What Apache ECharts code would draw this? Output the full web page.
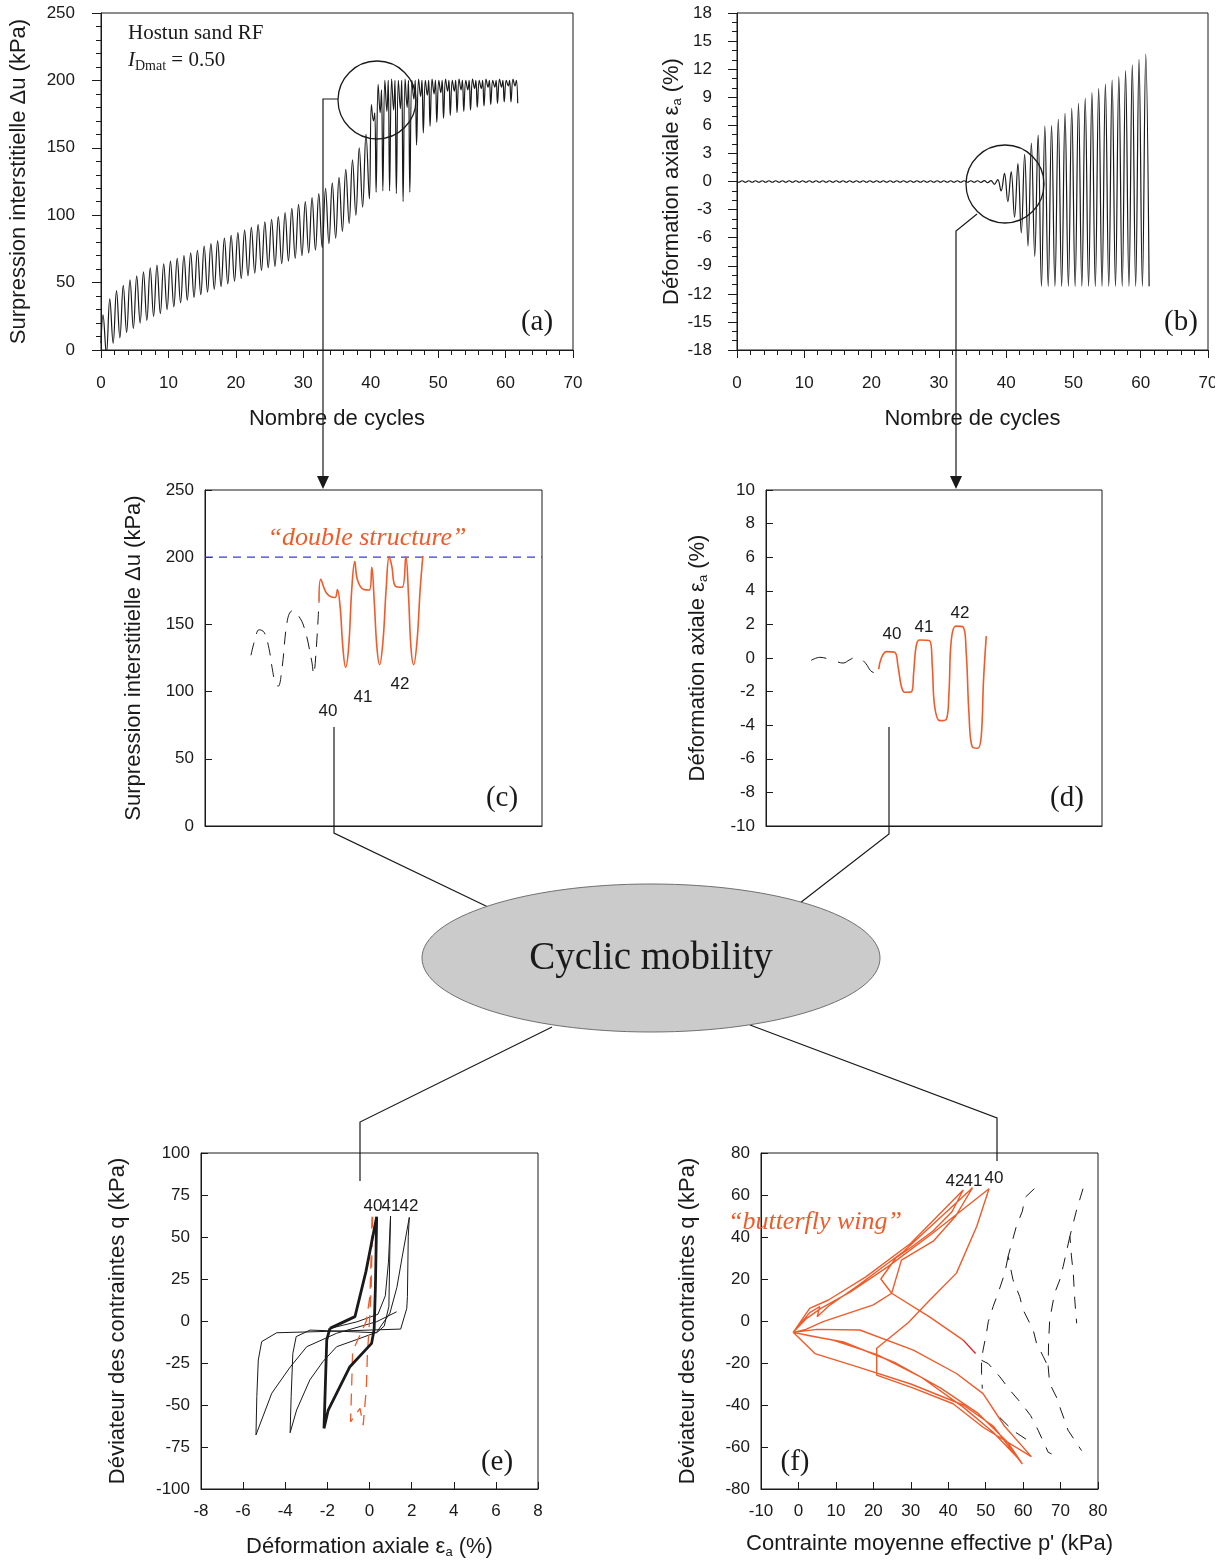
<!DOCTYPE html>
<html>
<head>
<meta charset="UTF-8">
<title>Cyclic mobility - Hostun sand RF</title>
<script src="https://cdn.jsdelivr.net/npm/echarts@6/dist/echarts.min.js"></script>
<style>
  html, body { margin: 0; padding: 0; background: #fff; }
  #chart { width: 1227px; height: 1564px; }
</style>
</head>
<body>
<div id="chart"></div>
<script>
// ---------- data ----------
// (a) excess pore pressure per cycle (kPa): peak, trough; cycles >= 40 have a double peak
const duStart = 5;
const duPeak = [26,38,44,48,52,55,58,61,63,64, 66,68,70,72,74,77,79,81,83,85,
  87,89,91,93,95,97,99,102,105,108, 110,113,116,120,124,128,134,141,150,160,
  182,197,200,201,200,201,200,201,200,201, 200,201,200,201,200,201,200,201,200,201, 200,201];
const duTrough = [-3,5,9,13,16,20,22,25,27,30, 32,35,37,39,41,43,45,47,49,51,
  53,55,57,59,61,62,64,66,68,70, 72,74,76,79,83,88,94,100,106,112,
  117,118,118,116,110,117,152,161,166,169, 172,174,176,177,178,180,181,182,183,184, 184,183];
const duMid = [170,176,177,178,179,180,186,188,189,190, 191,192,192,193,193,194,194,195,195,195, 196,196];
const duPeak2 = [176,193,200,200,200,200,200,200,200,200, 200,200,200,200,200,200,200,200,200,200, 200,200];

// (b) axial strain per cycle (%): peak, trough
const epsPeak = [0.08,0.08,0.08,0.08,0.08,0.08,0.08,0.08,0.08,0.08,
  0.08,0.08,0.08,0.08,0.08,0.08,0.08,0.08,0.08,0.08,
  0.08,0.08,0.08,0.08,0.08,0.08,0.08,0.08,0.08,0.08,
  0.08,0.08,0.08,0.08,0.08,0.08, 0.1,0.1,0.2,0.87,
  1.05,1.9,2.9,4.1,4.97,5.93,5.96,6.64,7.28,7.82,
  8.35,8.89,9.49,9.96,10.4,10.84,11.2,11.84,12.45,13.05,13.6];
const epsTrough = [-0.08,-0.08,-0.08,-0.08,-0.08,-0.08,-0.08,-0.08,-0.08,-0.08,
  -0.08,-0.08,-0.08,-0.08,-0.08,-0.08,-0.08,-0.08,-0.08,-0.08,
  -0.08,-0.08,-0.08,-0.08,-0.08,-0.08,-0.08,-0.08,-0.08,-0.08,
  -0.08,-0.08,-0.08,-0.08,-0.08,-0.08, -0.1,-0.12,-0.3,-1.0,
  -2.15,-3.8,-5.5,-6.9,-8.0,
  -11.2,-11.2,-11.2,-11.2,-11.2,-11.2,-11.2,-11.2,-11.2,-11.2,-11.2,-11.2,-11.2,-11.2,-11.2,-11.2,-11.2];

// (c) zoom on cycles 38-43: time (cycles) and pore pressure (kPa)
const zoomRange = [36.7, 46.6];
const cBlackT = [38.05,38.17,38.29,38.44,38.58,38.67,38.76,38.85,38.96,39.12,39.26,39.4,39.61,39.84,39.89,39.95,40.05];
const cBlackDu = [127,139,146,144,132,118,107,104,117,153,160,158,148,122,113,125,167];
const cRedT = [40.05,40.1,40.28,40.52,40.59,40.67,40.75,40.83,40.92,41.01,41.1,41.18,41.36,41.53,41.6,41.67,
  41.75,41.83,41.93,42.02,42.11,42.19,42.29,42.49,42.6,42.68,42.75,42.83,42.93,43.02,43.1];
const cRedDu = [167,183.5,173,170,176,163,133,118,133,175.6,196.7,183,176,175.6,192.5,168,
  133,120,138,175.6,200.4,193,178.6,177.6,200.4,170.6,133,120,138,175.6,201];
const cLimit = 200;

// (d) zoom on cycles 38-43: axial strain (%)
const dBlackT = [38.03,38.29,38.53,38.76,38.97,39.17,39.37,39.47,39.65,39.78,39.9,40.02];
const dBlackEps = [-0.14,0.04,-0.05,-0.2,-0.3,-0.1,0.06,0.0,-0.35,-0.75,-0.87,-0.67];
const dRedT = [40.02,40.1,40.25,40.49,40.59,40.69,40.79,40.99,41.05,41.13,41.23,41.52,41.6,41.67,
  41.82,42.01,42.09,42.16,42.29,42.5,42.6,42.68,42.78,42.94,43.04,43.11,43.19];
const dRedEps = [-0.67,0,0.38,0.34,-0.5,-1.7,-2.04,-2.0,-0.9,0.77,1.07,1.03,-0.5,-2.9,
  -3.73,-3.65,-2.1,1.07,1.9,1.86,0.28,-3.3,-5.3,-5.37,-4.7,-1.3,1.3];

// (e) q vs axial strain
const eThinEps = [-1.9,-0.6,0.4,0.75,0.9,1.0,0.97,0.92,0.7,0.34,-1.2,-2.82,-3.48,-3.64,-3.72,-3.77,-3.46,-2.83,-2.2,-1.56,
  -0.6,0.34,0.97,1.3,1.55,1.89,1.84,1.8,1.77,1.48,-1.5,-4.41,-5.12,-5.28,-5.35,-5.39,-4.64,-3.8,-2.98,-1.56,0.34,1.29];
const eThinQ = [-4.5,-0.5,4,15,35,62.5,45,8.7,-3,-7,-6.2,-5.4,-9.3,-19.3,-45,-66.5,-53,-35,-24,-15.3,
  -11,-6.7,4.7,20,38,61.7,50.2,14.5,7.5,-4.8,-6,-7,-12.3,-23.2,-45,-67.8,-43,-28,-15.3,-7.3,-0.4,5.5];
const eThickEps = [-1.88,-0.69,-0.17,0.34,0.28,0.22,0.1,-0.93,-1.96,-2.16,-2.1,-2.03,-1.88];
const eThickQ = [-4.4,2.6,29.4,62,20,-5,-13.3,-27.2,-53,-63.9,-40,-11.3,-4.4];
const eRedEps = [0.12,0.08,0.02,-0.15,-0.8,-0.85,-0.9,-0.45,-0.3,-0.15,-0.1,0.0,0.08,0.12,0.15];
const eRedQ = [62,40,15,0,-18,-40,-60,-52,-62,-40,-20,0,20,45,62];

// (f) stress path q vs p' : [p', q]
const fRedPath = [
  [59.1,-66.2],[52,-53],[44,-41],[33,-27],[21,-16],[9,-9],[-1.4,-5.4],
  [2,1],[6,6],[14,14],[24,26],[36,42],[50.9,63],
  [47.6,45],[42.2,22.8],[35.1,10],[29.3,-0.8],[20.9,-13],[20.9,-25.8],
  [30.7,-32],[41.3,-39.4],[49.3,-50.6],[62.2,-64.6],
  [55,-50],[49.3,-34.6],[42.2,-25],[30.7,-13.9],[16.4,-4.3],[5,-4],[-1.4,-5.4],
  [3,4],[5.7,6.9],[5,2],[8,7],[16,17],[28,33],[46.5,63.5],
  [42,50],[36,38],[27.5,29],[24.9,13.2],[20,7.7],[6.6,-0.3],[2,-4],[-1.4,-5.4],
  [4.4,-15.5],[16,-22],[30,-30],[44,-40],[52,-50],[59.8,-68.1],
  [56,-58],[48,-44],[38,-32],[26,-20],[12,-10],[3,-7],[-1.4,-5.4],
  [3,6],[8,10],[18,21],[30,37],[44,62.4],
  [41,52],[36,43],[30,35],[26,30],[22,20],[24.9,13.2],[35,2],[44,-9.1]
];
const fRedTail = [[44,-9.1],[47.3,-15.5]];
const fDashPaths = [
  [[76,63],[74.3,53],[72.5,40.4],[72.9,31],[73.4,22.8],[73.8,10],[74.3,-1.1]],
  [[72.5,40.4],[70.7,26],[69.8,19.6],[68.4,13.2],[67.1,0.5],[66.8,-10],[66.7,-21.8],[67.1,-29.8],[68.9,-36.2],[69.8,-41],[71.1,-47.4],[72,-52],[75.6,-61.7]],
  [[63,63],[60.5,58.8],[59.8,52.3],[58.2,45.1],[56,30.8],[57.3,19.6],[59.1,11.6],[60,5.3],[62.7,-4.3],[63.6,-10.7],[65.4,-17],[66.7,-21.8]],
  [[56,30.8],[55.1,22.8],[53.3,13.2],[52,6.9],[50.7,-0.3],[50.2,-5.9],[49.3,-13.9],[48.9,-18.7],[48.9,-25],[49.1,-32.2]],
  [[48.9,-18.7],[50.7,-20.3],[53.8,-26.6],[56.5,-33],[59.6,-39.4],[62,-45],[64,-52],[66.7,-62.5],[67.6,-63.3]],
  [[53.8,-46],[57.3,-52.2],[61.4,-57]]
];

// ---------- build series points ----------
const zip = (xs, ys) => xs.map((x, i) => [x, ys[i]]);

const duPts = [[0, duStart]];
for (let i = 0; i < duPeak.length; i++) {
  if (i < 40) {
    duPts.push([i + 0.3, duPeak[i]]);
  } else {
    duPts.push([i + 0.1, duPeak[i]], [i + 0.4, duMid[i - 40]], [i + 0.6, duPeak2[i - 40]]);
  }
  duPts.push([i + 0.8, duTrough[i]]);
}

const epsPts = [[0, 0]];
for (let i = 0; i < epsTrough.length; i++) {
  epsPts.push([i + 0.25, epsTrough[i]]);
  if (i < epsPeak.length) epsPts.push([i + 0.75, epsPeak[i]]);
}

// ---------- styling ----------
const SANS = '"Liberation Sans", Arial, sans-serif';
const SERIF = '"Liberation Serif", "Times New Roman", serif';
const ink = '#1a1a1a';
const orange = '#f15a29';

const subRich = { s: { fontSize: 13, lineHeight: 12, verticalAlign: 'bottom', fontFamily: SANS, color: ink } };

function axis(gridIndex, min, max, interval, o) {
  o = o || {};
  return {
    type: 'value', gridIndex: gridIndex, min: min, max: max, interval: interval,
    name: o.name || '', nameLocation: 'middle', nameGap: o.gap || 0,
    nameTextStyle: { fontFamily: SANS, fontSize: 22, color: ink, lineHeight: 24, rich: subRich },
    axisLine: { show: true, onZero: false, lineStyle: { color: ink, width: 1 } },
    axisTick: { show: o.ticks !== false, inside: !!o.inside, length: o.tickLen || 7, lineStyle: { color: ink } },
    minorTick: { show: !!o.minor, splitNumber: o.minor || 5, length: 5, lineStyle: { color: ink } },
    axisLabel: { show: o.labels !== false, margin: o.margin || 12, fontFamily: SANS, fontSize: 17, color: ink },
    splitLine: { show: false }
  };
}

function line(xi, data, o) {
  o = o || {};
  return {
    type: 'line', xAxisIndex: xi, yAxisIndex: xi, data: data, symbol: 'none',
    smooth: o.smooth || false, silent: true, z: o.z || 2,
    itemStyle: { color: o.color || ink },
    lineStyle: { color: o.color || ink, width: o.width || 1, type: o.dash || 'solid' }
  };
}

function txt(x, y, text, font, color, align) {
  return {
    type: 'text', x: x, y: y, z: 100, silent: true,
    style: { text: text, font: font, fill: color || ink, align: align || 'center', verticalAlign: 'middle',
             textAlign: align || 'center', textVerticalAlign: 'middle' }
  };
}
const pl = (pts, w) => ({ type: 'polyline', z: 100, silent: true, shape: { points: pts }, style: { stroke: ink, lineWidth: w || 1.2, fill: null } });
const arrow = (x, y) => ({ type: 'polygon', z: 100, silent: true, shape: { points: [[x - 6, y - 13], [x + 6, y - 13], [x, y]] }, style: { fill: ink } });

const chart = echarts.init(document.getElementById('chart'));
const gridBox = { show: true, borderColor: ink, borderWidth: 1, containLabel: false };

chart.setOption({
  animation: false,
  backgroundColor: '#fff',
  textStyle: { fontFamily: SANS },
  grid: [
    Object.assign({ left: 101, top: 13, width: 472, height: 337 }, gridBox),
    Object.assign({ left: 737, top: 13, width: 471, height: 337 }, gridBox),
    Object.assign({ left: 205, top: 490, width: 337, height: 336 }, gridBox),
    Object.assign({ left: 766, top: 490, width: 336, height: 336 }, gridBox),
    Object.assign({ left: 201, top: 1153, width: 337, height: 336 }, gridBox),
    Object.assign({ left: 761, top: 1153, width: 337, height: 336 }, gridBox)
  ],
  xAxis: [
    axis(0, 0, 70, 10, { name: 'Nombre de cycles', gap: 57, minor: 5, margin: 25, tickLen: 8 }),
    axis(1, 0, 70, 10, { name: 'Nombre de cycles', gap: 57, minor: 5, margin: 25, tickLen: 8 }),
    axis(2, zoomRange[0], zoomRange[1], null, { labels: false, ticks: false }),
    axis(3, zoomRange[0], zoomRange[1], null, { labels: false, ticks: false }),
    axis(4, -8, 8, 2, { name: 'Déformation axiale ε{s|a} (%)', gap: 46, inside: true, margin: 14 }),
    axis(5, -10, 80, 10, { name: "Contrainte moyenne effective p' (kPa)", gap: 43, inside: true, margin: 14 })
  ],
  yAxis: [
    axis(0, 0, 250, 50, { name: 'Surpression interstitielle Δu (kPa)', gap: 70, minor: 5, margin: 26, tickLen: 9 }),
    axis(1, -18, 18, 3, { name: 'Déformation axiale ε{s|a} (%)', gap: 45, minor: 3, margin: 25, tickLen: 9 }),
    axis(2, 0, 250, 50, { name: 'Surpression interstitielle Δu (kPa)', gap: 59, inside: true, margin: 11 }),
    axis(3, -10, 10, 2, { name: 'Déformation axiale ε{s|a} (%)', gap: 56, inside: true, margin: 11 }),
    axis(4, -100, 100, 25, { name: 'Déviateur des contraintes q (kPa)', gap: 71, inside: true, margin: 11 }),
    axis(5, -80, 80, 20, { name: 'Déviateur des contraintes q (kPa)', gap: 61, inside: true, margin: 11 })
  ],
  series: [
    line(0, duPts, { smooth: 0.4, width: 1.2 }),
    line(1, epsPts, { smooth: 0.4, width: 1.2 }),
    line(2, zoomRange.map(t => [t, cLimit]), { color: '#3a3ad6', dash: [8, 6], width: 1.2 }),
    line(2, zip(cBlackT, cBlackDu), { smooth: 0.4, dash: [13, 9] }),
    line(2, zip(cRedT, cRedDu), { smooth: 0.4, color: orange, width: 1.6, z: 3 }),
    line(3, zip(dBlackT, dBlackEps), { smooth: 0.4, dash: [16, 12] }),
    line(3, zip(dRedT, dRedEps), { smooth: 0.4, color: orange, width: 1.6 }),
    line(4, zip(eThinEps, eThinQ), { width: 1 }),
    line(4, zip(eRedEps, eRedQ), { color: orange, width: 1.3, dash: [12, 8] }),
    line(4, zip(eThickEps, eThickQ), { width: 2.8, z: 3 }),
    line(5, fRedPath, { color: orange, width: 1.4 }),
    line(5, fRedTail, { color: '#e3202a', width: 1.4 })
  ].concat(fDashPaths.map(p => line(5, p, { dash: [12, 10], width: 1 }))),
  graphic: { elements: [
    // zoom circles and leaders
    { type: 'circle', z: 100, silent: true, shape: { cx: 377, cy: 100, r: 39 }, style: { fill: null, stroke: ink, lineWidth: 1.3 } },
    pl([[338, 99], [323, 99], [323, 477]]),
    arrow(323, 489),
    { type: 'circle', z: 100, silent: true, shape: { cx: 1005, cy: 184, r: 39 }, style: { fill: null, stroke: ink, lineWidth: 1.3 } },
    pl([[977, 214], [956, 231], [956, 477]]),
    arrow(956, 489),
    pl([[334, 727], [334, 833], [488, 907]]),
    pl([[889, 727], [889, 834], [800, 903]]),
    pl([[552, 1027], [360, 1122], [360, 1181]]),
    pl([[750, 1025], [997, 1118], [997, 1161]]),
    { type: 'ellipse', z: 101, silent: true, shape: { cx: 651, cy: 958, rx: 229, ry: 74 }, style: { fill: '#cbcbcb', stroke: '#707070', lineWidth: 1 } },
    Object.assign(txt(651, 959, 'Cyclic mobility', '39px ' + SERIF), { z: 102 }),
    // panel letters
    txt(537, 322, '(a)', '29px ' + SERIF),
    txt(1181, 322, '(b)', '29px ' + SERIF),
    txt(502, 798, '(c)', '29px ' + SERIF),
    txt(1067, 798, '(d)', '29px ' + SERIF),
    txt(497, 1462, '(e)', '29px ' + SERIF),
    txt(795, 1462, '(f)', '29px ' + SERIF),
    // material
    txt(128, 33, 'Hostun sand RF', '21px ' + SERIF, ink, 'left'),
    { type: 'text', x: 128, y: 60, z: 100, silent: true,
      style: { text: '{i|I}{s|Dmat}{n| = 0.50}', align: 'left', verticalAlign: 'middle', textAlign: 'left', textVerticalAlign: 'middle',
        rich: {
          i: { font: 'italic 21px ' + SERIF, fill: ink, lineHeight: 26 },
          s: { font: '14px ' + SERIF, fill: ink, lineHeight: 14, verticalAlign: 'bottom' },
          n: { font: '21px ' + SERIF, fill: ink, lineHeight: 26 }
        } } },
    // annotations
    txt(367, 538, '\u201Cdouble structure\u201D', 'italic 26px ' + SERIF, orange),
    txt(815, 1222, '\u201Cbutterfly wing\u201D', 'italic 26px ' + SERIF, orange),
    txt(328, 711, '40', '17px ' + SANS), txt(363, 697, '41', '17px ' + SANS), txt(400, 684, '42', '17px ' + SANS),
    txt(892, 634, '40', '17px ' + SANS), txt(924, 627, '41', '17px ' + SANS), txt(960, 613, '42', '17px ' + SANS),
    txt(373, 1206, '40', '17px ' + SANS), txt(391, 1206, '41', '17px ' + SANS), txt(409, 1206, '42', '17px ' + SANS),
    txt(955, 1181, '42', '17px ' + SANS), txt(973, 1181, '41', '17px ' + SANS), txt(994, 1178, '40', '17px ' + SANS),
    // right edge crop of the scanned figure
    { type: 'rect', z: 100, silent: true, shape: { x: 1215, y: 372, width: 12, height: 26 }, style: { fill: '#fff' } }
  ] }
});
</script>
</body>
</html>
